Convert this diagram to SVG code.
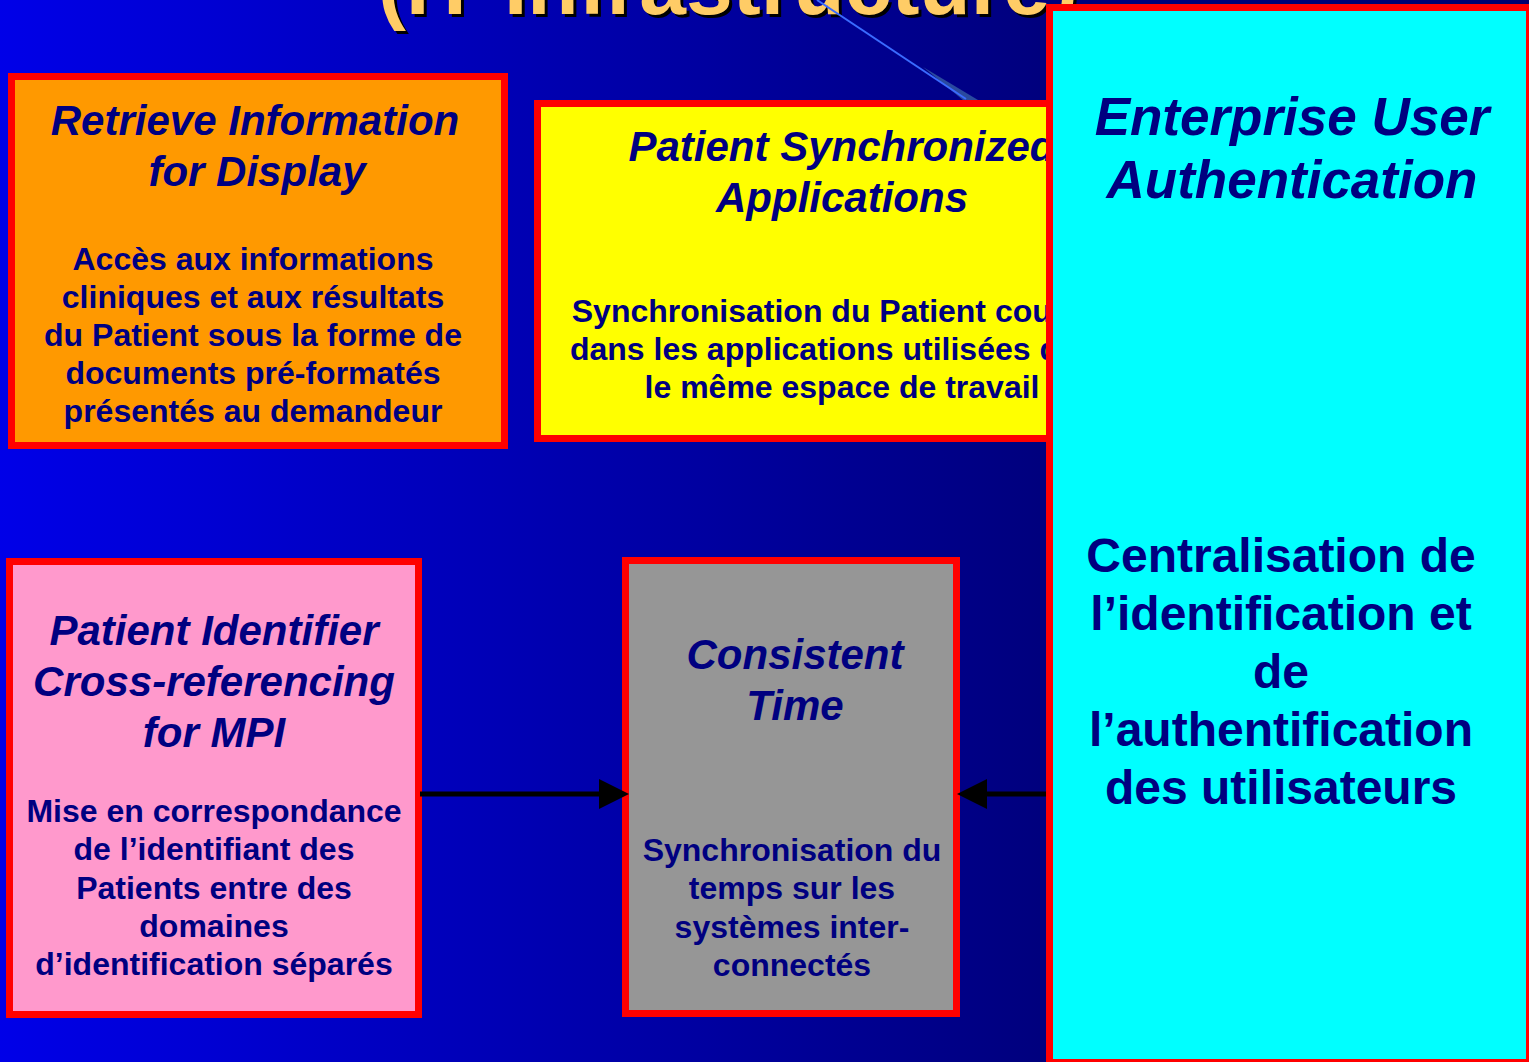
<svg xmlns="http://www.w3.org/2000/svg" width="1529" height="1062" viewBox="0 0 1529 1062">
<defs>
<linearGradient id="bg" gradientUnits="userSpaceOnUse" x1="0" y1="0" x2="1529" y2="0">
<stop offset="0" stop-color="#0000E8"/>
<stop offset="0.68" stop-color="#00007E"/>
<stop offset="1" stop-color="#000070"/>
</linearGradient>
<marker id="arrow" viewBox="0 0 30 30" refX="0" refY="15" markerWidth="30" markerHeight="30" markerUnits="userSpaceOnUse" orient="auto">
<path d="M0,0 L30,15 L0,30 z" fill="#000"/>
</marker>
</defs>
<style>
.box{stroke:#FF0000;stroke-width:7}
.t{font-family:"Liberation Sans",Arial,sans-serif;font-weight:bold;fill:#000080;text-anchor:middle}
.h{font-style:italic;font-size:42px}
.b{font-size:32px}
.title{font-family:"Liberation Sans",Arial,sans-serif;font-weight:bold;font-size:84px}
.conn{stroke:#000;stroke-width:5;fill:none;marker-end:url(#arrow)}
</style>
<rect x="0" y="0" width="1529" height="1062" fill="url(#bg)"/>
<g id="title">
<text class="title" x="381" y="17" fill="#000">(IT Infrastructure)</text>
<text class="title" x="378" y="14" fill="#FFCC66">(IT Infrastructure)</text>
<polygon points="923,67 978,100 963,100" fill="#2A4A9E"/>
<line x1="817" y1="0" x2="966" y2="99" stroke="#3A6BFF" stroke-width="2"/>
</g>
<g id="node-retrieve">
<rect class="box" x="11.5" y="76.5" width="493" height="369" fill="#FF9900"/>
<text class="t h" x="255" y="135">Retrieve Information</text>
<text class="t h" x="257" y="186">for Display</text>
<text class="t b" x="253" y="270">Accès aux informations</text>
<text class="t b" x="253" y="308">cliniques et aux résultats</text>
<text class="t b" x="253" y="346">du Patient sous la forme de</text>
<text class="t b" x="253" y="384">documents pré-formatés</text>
<text class="t b" x="253" y="422">présentés au demandeur</text>
</g>
<g id="node-psa">
<rect class="box" x="537.5" y="103.5" width="608" height="335" fill="#FFFF00"/>
<text class="t h" x="842" y="161">Patient Synchronized</text>
<text class="t h" x="842" y="212">Applications</text>
<text class="t b" x="842" y="322">Synchronisation du Patient courant</text>
<text class="t b" x="842" y="360">dans les applications utilisées dans</text>
<text class="t b" x="842" y="398">le même espace de travail</text>
</g>
<g id="node-pix">
<rect class="box" x="9.5" y="561.5" width="409" height="453" fill="#FF99CC"/>
<text class="t h" x="214" y="645">Patient Identifier</text>
<text class="t h" x="214" y="696">Cross-referencing</text>
<text class="t h" x="214" y="747">for MPI</text>
<text class="t b" x="214" y="822">Mise en correspondance</text>
<text class="t b" x="214" y="860">de l’identifiant des</text>
<text class="t b" x="214" y="899">Patients entre des</text>
<text class="t b" x="214" y="937">domaines</text>
<text class="t b" x="214" y="975">d’identification séparés</text>
</g>
<g id="node-ct">
<rect class="box" x="625.5" y="560.5" width="331" height="453" fill="#969696"/>
<text class="t h" x="795" y="669">Consistent</text>
<text class="t h" x="795" y="720">Time</text>
<text class="t b" x="792" y="861">Synchronisation du</text>
<text class="t b" x="792" y="899">temps sur les</text>
<text class="t b" x="792" y="938">systèmes inter-</text>
<text class="t b" x="792" y="976">connectés</text>
</g>
<g id="connectors">
<line class="conn" x1="420" y1="794" x2="599" y2="794"/>
<line class="conn" x1="1048" y1="794" x2="987" y2="794"/>
</g>
<g id="node-eua">
<rect class="box" x="1049.5" y="7.5" width="480" height="1055" fill="#00FFFF"/>
<text class="t" font-style="italic" font-size="53" x="1292" y="135">Enterprise User</text>
<text class="t" font-style="italic" font-size="53" x="1292" y="198">Authentication</text>
<text class="t" font-size="48" x="1281" y="572">Centralisation de</text>
<text class="t" font-size="48" x="1281" y="630">l’identification et</text>
<text class="t" font-size="48" x="1281" y="688">de</text>
<text class="t" font-size="48" x="1281" y="746">l’authentification</text>
<text class="t" font-size="48" x="1281" y="804">des utilisateurs</text>
</g>
</svg>
